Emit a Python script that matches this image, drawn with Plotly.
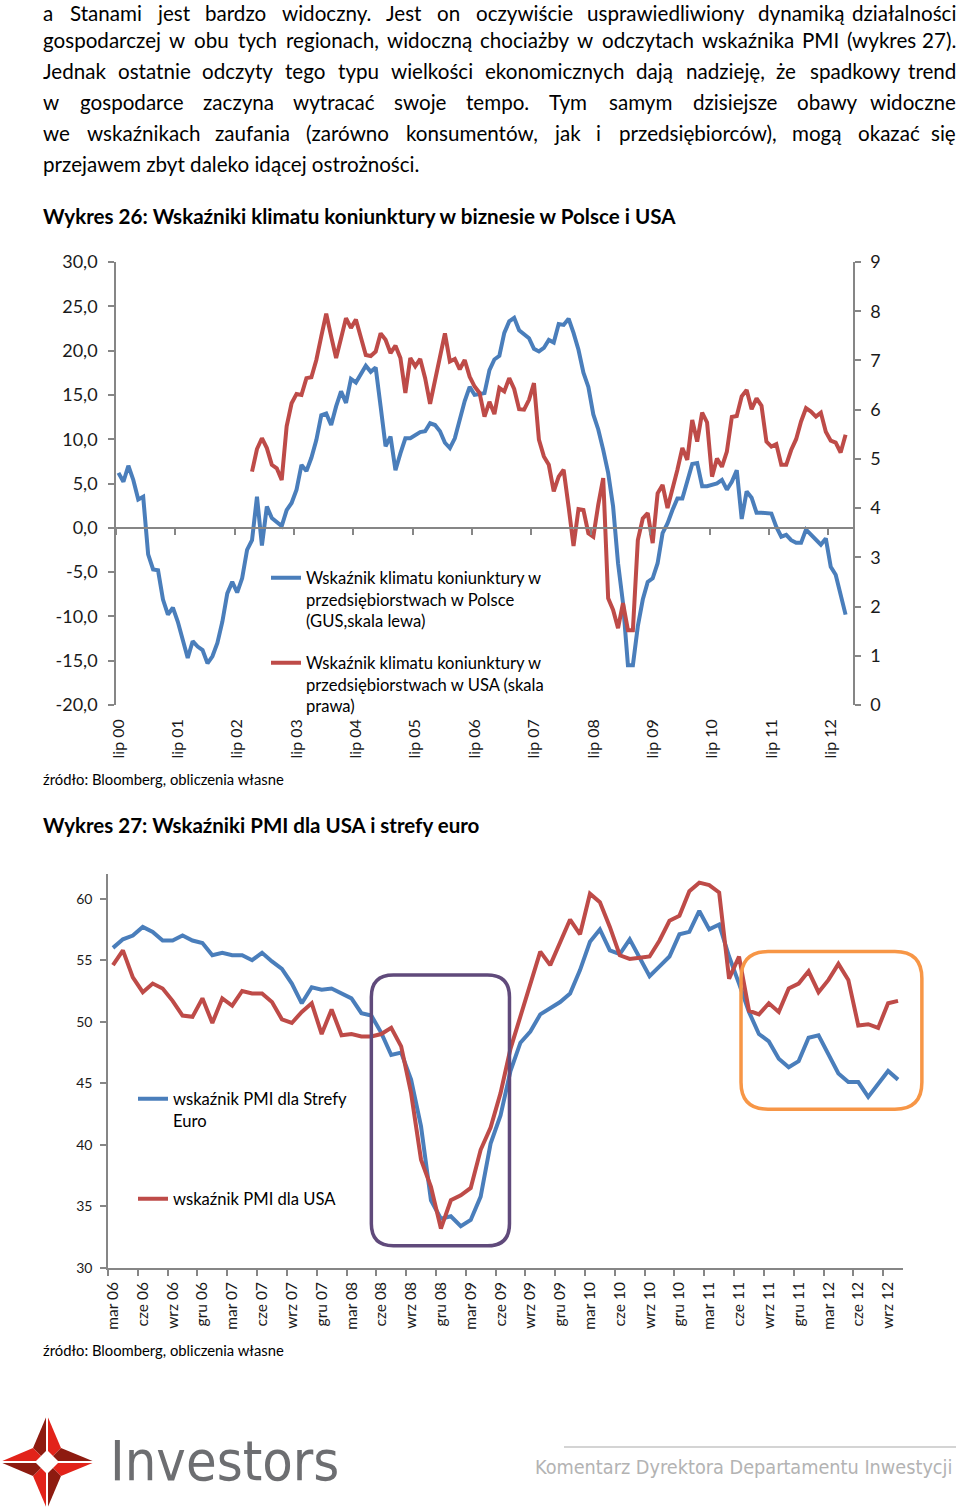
import plotly.graph_objects as go

# ---------------- data ----------------
LIP_LABELS = ["lip 00", "lip 01", "lip 02", "lip 03", "lip 04", "lip 05", "lip 06",
              "lip 07", "lip 08", "lip 09", "lip 10", "lip 11", "lip 12"]

# Business climate in Poland (GUS), monthly Jul 2000 - Oct 2012, left axis
POLAND_GUS = [
    6.2, 5.2, 7.0, 5.4, 3.2, 3.5, -3.0, -4.7, -4.8, -8.1, -9.8, -9.0,
    -10.6, -12.6, -14.7, -12.8, -13.4, -13.8, -15.3, -14.5, -13.0, -10.6, -7.4, -6.1,
    -7.3, -5.7, -2.5, -1.4, 3.5, -2.0, 2.4, 1.1, 0.7, 0.2, 2.0, 2.8,
    4.3, 7.1, 6.4, 7.9, 9.9, 12.7, 12.9, 11.6, 13.7, 15.4, 14.1, 16.8,
    16.4, 17.4, 18.3, 17.6, 18.1, 13.7, 9.2, 10.3, 6.5, 8.4, 10.1, 10.1,
    10.5, 10.8, 10.9, 11.8, 11.6, 10.9, 9.6, 9.0, 10.1, 12.4, 14.3, 15.9,
    15.0, 15.1, 15.2, 17.8, 19.0, 19.4, 22.0, 23.3, 23.7, 22.3, 21.8, 21.4,
    20.2, 19.9, 20.3, 21.2, 20.9, 23.0, 22.9, 23.6, 22.0, 20.1, 17.5, 15.9,
    12.8, 11.1, 8.8, 6.2, 2.4, -4.0, -8.5, -15.5, -15.5, -11.1, -8.1, -6.1,
    -5.7, -4.0, -0.6, 0.5, 2.0, 3.3, 3.3, 5.2, 7.2, 7.3, 4.7, 4.7,
    4.8, 5.0, 5.4, 4.3, 5.2, 6.5, 1.0, 4.1, 3.4, 1.7, 1.7, 1.7,
    1.6, 0.1, -1.0, -0.8, -1.4, -1.7, -1.7, -0.2, -0.8, -1.4, -1.9, -1.2,
    -4.4, -5.3, -7.6, -9.8,
]

# Business climate in the USA, monthly Oct 2002 - Oct 2012, right axis
USA_CLIMATE_START = 27  # month index (0 = lip 00) of the first USA value
USA_CLIMATE = [
    4.74, 5.20, 5.42, 5.22, 4.88, 4.81, 4.57, 5.66, 6.13,
    6.32, 6.30, 6.64, 6.66, 7.01, 7.49, 7.95, 7.49, 7.05, 7.45, 7.86, 7.66,
    7.83, 7.47, 7.11, 7.09, 7.18, 7.55, 7.42, 7.15, 7.30, 7.05, 6.34, 7.05,
    6.88, 7.03, 6.64, 6.12, 6.57, 7.08, 7.55, 6.98, 7.03, 6.82, 7.01, 6.67,
    6.47, 6.34, 5.86, 6.16, 5.91, 6.44, 6.37, 6.64, 6.42, 6.01, 6.00, 6.20,
    6.54, 5.39, 5.05, 4.88, 4.34, 4.64, 4.78, 4.03, 3.23, 3.98, 3.96, 3.49,
    3.42, 4.07, 4.61, 2.17, 1.93, 1.56, 2.07, 1.52, 1.52, 3.35, 3.79, 3.90,
    3.29, 4.30, 4.47, 4.00, 4.37, 4.78, 5.22, 4.98, 5.79, 5.35, 5.94, 5.74,
    4.64, 5.01, 4.84, 5.15, 5.85, 5.87, 6.27, 6.40, 6.01, 6.23, 6.08, 5.35,
    5.25, 5.30, 4.88, 4.88, 5.18, 5.40, 5.76, 6.03, 5.96, 5.86, 5.94, 5.55,
    5.37, 5.33, 5.13, 5.49,
]

PMI_LABELS = ["mar 06", "cze 06", "wrz 06", "gru 06", "mar 07", "cze 07", "wrz 07",
              "gru 07", "mar 08", "cze 08", "wrz 08", "gru 08", "mar 09", "cze 09",
              "wrz 09", "gru 09", "mar 10", "cze 10", "wrz 10", "gru 10", "mar 11",
              "cze 11", "wrz 11", "gru 11", "mar 12", "cze 12", "wrz 12"]

# PMI, monthly Mar 2006 - Oct 2012
EURO_PMI = [
    56.0, 56.7, 57.0, 57.7, 57.3, 56.6, 56.6, 57.0, 56.6, 56.4, 55.4, 55.6,
    55.4, 55.4, 55.0, 55.6, 54.9, 54.3, 53.1, 51.5, 52.8, 52.6, 52.7, 52.3,
    51.9, 50.7, 50.5, 49.1, 47.3, 47.5, 45.3, 41.5, 35.5, 34.0, 34.2, 33.4,
    33.9, 35.8, 40.1, 42.4, 46.0, 48.3, 49.2, 50.6, 51.1, 51.6, 52.3, 54.2,
    56.5, 57.5, 55.8, 55.5, 56.7, 55.2, 53.7, 54.5, 55.3, 57.1, 57.3, 59.0,
    57.5, 57.9, 55.3, 53.1, 50.8, 49.0, 48.4, 47.0, 46.3, 46.8, 48.7, 48.9,
    47.3, 45.8, 45.1, 45.1, 43.9, 45.0, 46.0, 45.3,
]
USA_PMI = [
    54.6, 55.8, 53.6, 52.4, 53.1, 52.7, 51.7, 50.5, 50.4, 51.9, 49.9, 51.9,
    51.3, 52.5, 52.3, 52.3, 51.6, 50.2, 49.9, 50.8, 51.5, 49.0, 51.0, 48.9,
    49.0, 48.8, 48.8, 49.0, 49.5, 48.0, 44.2, 38.8, 36.6, 33.2, 35.5, 35.9,
    36.5, 39.6, 41.4, 44.2, 47.8, 50.5, 53.1, 55.7, 54.6, 56.5, 58.3, 57.1,
    60.4, 59.7, 57.7, 55.4, 55.1, 55.2, 55.3, 56.6, 58.2, 58.6, 60.6, 61.3,
    61.1, 60.5, 53.5, 55.3, 50.9, 50.6, 51.5, 50.8, 52.7, 53.1, 54.1, 52.4,
    53.4, 54.7, 53.4, 49.7, 49.8, 49.5, 51.5, 51.7,
]

# highlighted periods on chart 27 (month index, PMI value)
PURPLE_BOX = dict(i0=26.0, i1=39.9, v0=31.8, v1=53.8)
ORANGE_BOX = dict(i0=63.2, i1=81.4, v0=42.9, v1=55.7)

BODY_LINES = [
    "a Stanami jest bardzo widoczny. Jest on oczywiście usprawiedliwiony dynamiką działalności",
    "gospodarczej w obu tych regionach, widoczną chociażby w odczytach wskaźnika PMI (wykres 27).",
    "Jednak ostatnie odczyty tego typu wielkości ekonomicznych dają nadzieję, że spadkowy trend",
    "w gospodarce zaczyna wytracać swoje tempo. Tym samym dzisiejsze obawy widoczne",
    "we wskaźnikach zaufania (zarówno konsumentów, jak i przedsiębiorców), mogą okazać się",
]
BODY_LAST = "przejawem zbyt daleko idącej ostrożności."

# ---------------- page geometry ----------------
W, H = 960, 1509
F = "Lato"
BLUE = "#4A7EBB"
RED = "#BE4B48"
AX = "#868686"
CONDENSED = "DejaVu Sans Condensed, Liberation Sans Narrow, Roboto, sans-serif"


def px(x):
    return x / W


def py(y):
    return 1 - y / H


# chart 26 plot area (page pixels)
C1 = dict(l=116, r=853, t=262, b=705)
Y1 = (-20, 30)
Y1R = (0, 9)
X1 = (-0.5, 148.5)
# chart 27 plot area
C2 = dict(l=108, r=903, t=874, b=1268)
Y3 = (30, 62)
X2 = (-0.5, 79.5)

fig = go.Figure()

fig.add_trace(go.Scatter(
    x=list(range(len(POLAND_GUS))), y=POLAND_GUS, mode="lines",
    line=dict(color=BLUE, width=4), xaxis="x", yaxis="y", legend="legend",
    name="Wskaźnik klimatu koniunktury w<br>przedsiębiorstwach w Polsce<br>(GUS,skala lewa)"))
fig.add_trace(go.Scatter(
    x=[USA_CLIMATE_START + k for k in range(len(USA_CLIMATE))], y=USA_CLIMATE, mode="lines",
    line=dict(color=RED, width=4), xaxis="x", yaxis="y2", legend="legend2",
    name="Wskaźnik klimatu koniunktury w<br>przedsiębiorstwach w USA (skala<br>prawa)"))
fig.add_trace(go.Scatter(x=[], y=[], xaxis="x3", yaxis="y", showlegend=False, hoverinfo="skip"))

fig.add_trace(go.Scatter(
    x=list(range(len(EURO_PMI))), y=EURO_PMI, mode="lines",
    line=dict(color=BLUE, width=4), xaxis="x2", yaxis="y3", legend="legend3",
    name="wskaźnik PMI dla Strefy<br>Euro"))
fig.add_trace(go.Scatter(
    x=list(range(len(USA_PMI))), y=USA_PMI, mode="lines",
    line=dict(color=RED, width=4), xaxis="x2", yaxis="y3", legend="legend4",
    name="wskaźnik PMI dla USA"))
fig.add_trace(go.Scatter(x=[], y=[], xaxis="x4", yaxis="y3", showlegend=False, hoverinfo="skip"))

tickfont = dict(family=F, size=18, color="#1a1a1a")
y1_vals = list(range(-20, 31, 5))
zero_px = C1["t"] + (Y1[1] - 0) / (Y1[1] - Y1[0]) * (C1["b"] - C1["t"])
axis_common = dict(showgrid=False, zeroline=False, automargin=False)
line_common = dict(showline=True, linecolor=AX, linewidth=1.5,
                   ticks="outside", ticklen=6, tickcolor=AX, tickwidth=1.5)

fig.update_layout(
    width=W, height=H, margin=dict(l=0, r=0, t=0, b=0, pad=0, autoexpand=False),
    showlegend=True, paper_bgcolor="white", plot_bgcolor="rgba(0,0,0,0)",
    font=dict(family=F, color="#000"),
    xaxis=dict(domain=[px(C1["l"]), px(C1["r"])], range=list(X1), anchor="y",
               showline=False, ticks="", **axis_common,
               tickmode="array", tickvals=[12 * k for k in range(len(LIP_LABELS))],
               ticktext=LIP_LABELS, tickangle=-90, ticklabelstandoff=10,
               tickfont=dict(family=F, size=16, color="#1a1a1a")),
    xaxis3=dict(overlaying="x", range=list(X1), anchor="free", position=py(zero_px),
                **axis_common, **line_common,
                tickmode="array", tickvals=[-0.5 + 12 * k for k in range(13)],
                showticklabels=False),
    yaxis=dict(domain=[py(C1["b"]), py(C1["t"])], range=list(Y1), anchor="x",
               **axis_common, **line_common,
               tickmode="array", tickvals=y1_vals,
               ticktext=[f"{v},0" for v in y1_vals], ticklabelstandoff=7,
               tickfont=tickfont),
    yaxis2=dict(overlaying="y", side="right", range=list(Y1R), anchor="x",
                **axis_common, **line_common,
                tickmode="array", tickvals=list(range(0, 10)), ticklabelstandoff=6,
                tickfont=tickfont),
    xaxis2=dict(domain=[px(C2["l"]), px(C2["r"])], range=list(X2), anchor="y3",
                showline=False, ticks="", **axis_common,
                tickmode="array", tickvals=[3 * k for k in range(len(PMI_LABELS))],
                ticktext=PMI_LABELS, tickangle=-90, ticklabelstandoff=10,
                tickfont=dict(family=F, size=15.5, color="#1a1a1a")),
    xaxis4=dict(overlaying="x2", range=list(X2), anchor="y3",
                **axis_common, **line_common,
                tickmode="array", tickvals=[-0.5 + 3 * k for k in range(28)],
                showticklabels=False),
    yaxis3=dict(domain=[py(C2["b"]), py(C2["t"])], range=list(Y3), anchor="x2",
                **axis_common, **line_common,
                tickmode="array", tickvals=list(range(30, 61, 5)), ticklabelstandoff=5,
                tickfont=dict(family=F, size=14, color="#1a1a1a")),
)

leg_common = dict(xanchor="left", yanchor="top", valign="top", bgcolor="rgba(0,0,0,0)",
                  font=dict(family=F, size=16.6, color="#000"), itemwidth=30,
                  borderwidth=0)
LEG_DY = 17.5  # legend top -> centre of first text line
LEG_DX = 41    # legend left -> start of text
fig.update_layout(
    legend=dict(x=px(307 - LEG_DX), y=py(578 - LEG_DY), **leg_common),
    legend2=dict(x=px(307 - LEG_DX), y=py(663 - LEG_DY), **leg_common),
    legend3=dict(x=px(174 - LEG_DX), y=py(1099 - LEG_DY), **leg_common),
    legend4=dict(x=px(174 - LEG_DX), y=py(1199 - LEG_DY), **leg_common),
)


# ---------------- highlight boxes on chart 27 ----------------
def c2x(i):
    return C2["l"] + (i - X2[0]) / (X2[1] - X2[0]) * (C2["r"] - C2["l"])


def c2y(v):
    return C2["b"] - (v - Y3[0]) / (Y3[1] - Y3[0]) * (C2["b"] - C2["t"])


def rrect_path(x0, x1, y0, y1, r):
    P = lambda x, y: f"{px(x):.5f},{py(y):.5f}"
    pts = ["M" + P(x0 + r, y0), "L" + P(x1 - r, y0),
           "Q" + P(x1, y0) + " " + P(x1, y0 + r), "L" + P(x1, y1 - r),
           "Q" + P(x1, y1) + " " + P(x1 - r, y1), "L" + P(x0 + r, y1),
           "Q" + P(x0, y1) + " " + P(x0, y1 - r), "L" + P(x0, y0 + r),
           "Q" + P(x0, y0) + " " + P(x0 + r, y0)]
    return " ".join(pts) + " Z"


shapes = []
for box, color, r in [(PURPLE_BOX, "#604A7B", 22), (ORANGE_BOX, "#F79646", 27)]:
    shapes.append(dict(type="path", xref="paper", yref="paper",
                       path=rrect_path(c2x(box["i0"]), c2x(box["i1"]),
                                       c2y(box["v1"]), c2y(box["v0"]), r),
                       line=dict(color=color, width=3.5), fillcolor="rgba(0,0,0,0)",
                       layer="above"))


# ---------------- logo ----------------
def poly(points, color):
    d = "M" + " L".join(f"{px(x):.5f},{py(y):.5f}" for x, y in points) + " Z"
    return dict(type="path", xref="paper", yref="paper", path=d,
                fillcolor=color, line=dict(width=0), layer="above")


RED_L, DARK_L = "#E2231A", "#8E1B10"
cx, cy = 47, 1462
tips = [(47, 1415), (95, 1462), (47, 1509), (0, 1462)]
inner = [(61, 1448), (61, 1476), (33, 1476), (33, 1448)]  # NE, SE, SW, NW
for k in range(4):
    tip = tips[k]
    left_in = inner[(k - 1) % 4]
    right_in = inner[k]
    shapes.append(poly([tip, left_in, (cx, cy)], DARK_L))
    shapes.append(poly([tip, right_in, (cx, cy)], RED_L))
shapes.append(poly([(47, 1450), (59, 1462), (47, 1474), (35, 1462)], "white"))
shapes.append(dict(type="line", xref="paper", yref="paper", x0=px(47), x1=px(47),
                   y0=py(1413), y1=py(1511), line=dict(color="white", width=2), layer="above"))
shapes.append(dict(type="line", xref="paper", yref="paper", x0=px(-2), x1=px(97),
                   y0=py(1462), y1=py(1462), line=dict(color="white", width=2), layer="above"))
# footer rule
shapes.append(dict(type="line", xref="paper", yref="paper", x0=px(564), x1=px(956),
                   y0=py(1447), y1=py(1447), line=dict(color="#d4d4d4", width=2)))
fig.update_layout(shapes=shapes)

# ---------------- text ----------------
annotations = []


def txt(x, y, s, size, bold=False, xanchor="left", color="#000", family=F):
    annotations.append(dict(x=px(x), y=py(y), xref="paper", yref="paper",
                            text=(f"<b>{s}</b>" if bold else s),
                            showarrow=False, xanchor=xanchor, yanchor="middle",
                            font=dict(family=family, size=size, color=color)))


CW = {' ': 0.193, 'a': 0.49, 'b': 0.55, 'c': 0.46, 'd': 0.55, 'e': 0.52, 'f': 0.31, 'g': 0.5,
      'h': 0.55, 'i': 0.23, 'j': 0.23, 'k': 0.49, 'l': 0.23, 'm': 0.83, 'n': 0.55, 'o': 0.55,
      'p': 0.55, 'q': 0.55, 'r': 0.36, 's': 0.42, 't': 0.34, 'u': 0.55, 'v': 0.5, 'w': 0.76,
      'x': 0.48, 'y': 0.5, 'z': 0.44, 'ą': 0.49, 'ę': 0.52, 'ć': 0.46, 'ł': 0.25, 'ń': 0.55,
      'ó': 0.55, 'ś': 0.42, 'ź': 0.44, 'ż': 0.44, '.': 0.2, ',': 0.2, '(': 0.3, ')': 0.3,
      'J': 0.37, 'T': 0.55, 'P': 0.6, 'M': 0.85, 'I': 0.27, 'S': 0.5}


def tw(s, size):
    return sum(CW.get(c, 0.58 if c.isdigit() else 0.65) for c in s) * size


BODY_SIZE = 20.6
LEFT, RIGHT = 41, 958
line_y = [14, 41, 72, 103, 134]   # first line kept fully inside the page
for yy, line in zip(line_y, BODY_LINES):
    words = line.split(" ")
    widths = [tw(w, BODY_SIZE) for w in words]
    gap = (RIGHT - LEFT - sum(widths)) / (len(words) - 1)
    x = LEFT
    for j, (w, wd) in enumerate(zip(words, widths)):
        if j == len(words) - 1:
            txt(RIGHT, yy - 1, w, BODY_SIZE, xanchor="right")
        else:
            txt(x, yy - 1, w, BODY_SIZE)
        x += wd + gap
txt(LEFT, 164, BODY_LAST, BODY_SIZE)

txt(41, 216, "Wykres 26: Wskaźniki klimatu koniunktury w biznesie w Polsce i USA", 20.6, bold=True)
txt(41, 779, "źródło: Bloomberg, obliczenia własne", 14.8)
txt(41, 825, "Wykres 27: Wskaźniki PMI dla USA i strefy euro", 20.5, bold=True)
txt(41, 1350, "źródło: Bloomberg, obliczenia własne", 14.8)

txt(108, 1460, "Investors", 55.5, color="#6d6e71", family=CONDENSED)
txt(954, 1467, "Komentarz Dyrektora Departamentu Inwestycji", 19.7, xanchor="right",
    color="#b3b3b3", family=CONDENSED)

fig.update_layout(annotations=annotations)

fig.write_html("out.html", include_plotlyjs=True, config={"displayModeBar": False},
               post_script="document.body.style.margin='0';document.body.style.overflow='hidden';")
